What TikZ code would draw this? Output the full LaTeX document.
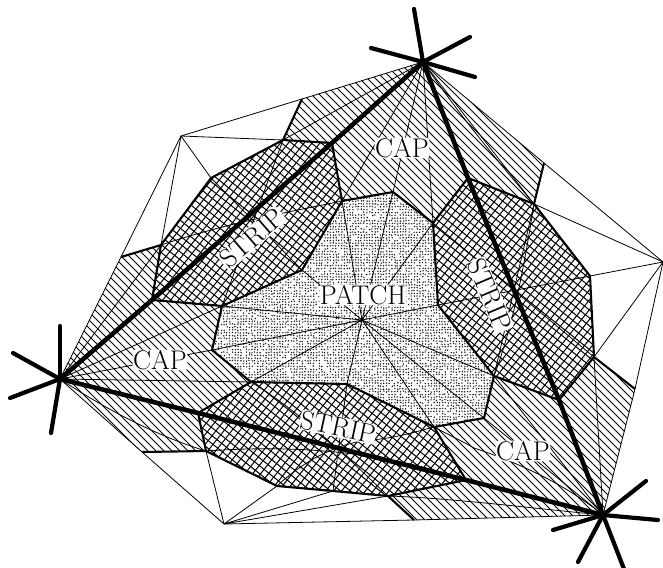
\documentclass[tikz,border=0pt]{standalone}
\pgfmathsetseed{4242}
\tikzset{
  hatchl/.style={line width=0.95pt},
  crossl/.style={line width=1pt},
  thinl/.style={line width=0.8pt,line join=round},
  thickl/.style={line width=2.1pt,line join=round},
  heavyl/.style={line width=4.6pt,line join=round},
  spoke/.style={line width=4.2pt,line cap=round},
  lab/.style={fill=white,rounded corners=3pt,inner sep=0.6pt,font=\fontsize{27}{30}\selectfont},
}
\begin{document}
\begin{tikzpicture}[x=1pt,y=-1pt]
\useasboundingbox (0,0) rectangle (663,567);
% primary vertices
\coordinate (A) at (423,62);
\coordinate (B) at (60,379);
\coordinate (C) at (603,515);
\coordinate (O) at (362,320);
% spokes
\coordinate (a1) at (414,9); \coordinate (a2) at (470,37); \coordinate (a3) at (475,77); \coordinate (a4) at (371,48);
\coordinate (b1) at (60,326); \coordinate (b2) at (13,353); \coordinate (b3) at (10,398); \coordinate (b4) at (51,433);
\coordinate (c1) at (646,481); \coordinate (c2) at (658,520); \coordinate (c3) at (553,530); \coordinate (c4) at (578,562); \coordinate (c5) at (624,569);
% outer
\coordinate (o1) at (181,136); \coordinate (o2) at (302,99); \coordinate (o3) at (544,163);
\coordinate (o4) at (663,262); \coordinate (o5) at (635,389); \coordinate (o6) at (414,520);
\coordinate (o7) at (224,524); \coordinate (o8) at (142,452); \coordinate (o9) at (121,257);
% patch
\coordinate (p1) at (342,201); \coordinate (p2) at (393,192); \coordinate (p3) at (433,223);
\coordinate (p4) at (438,305); \coordinate (p5) at (494,376); \coordinate (p6) at (484,418);
\coordinate (p7) at (434,427); \coordinate (p8) at (347,384); \coordinate (p9) at (251,382);
\coordinate (p10) at (212,350); \coordinate (p11) at (222,306); \coordinate (p12) at (302,270);
% strip left
\coordinate (s1) at (332,143); \coordinate (s2) at (283,140); \coordinate (s3) at (211,178);
\coordinate (s4) at (161,245); \coordinate (s5) at (152,300);
% strip right
\coordinate (r1) at (468,178); \coordinate (r2) at (534,204); \coordinate (r3) at (590,276);
\coordinate (r4) at (594,357); \coordinate (r5) at (559,400);
% strip bottom
\coordinate (t1) at (198,413); \coordinate (t2) at (206,451); \coordinate (t3) at (277,486);
\coordinate (t4) at (333,491); \coordinate (t5) at (388,496); \coordinate (t6) at (466,480);
% stipple
\begin{scope}
\clip (p1)--(p2)--(p3)--(p4)--(p5)--(p6)--(p7)--(p8)--(p9)--(p10)--(p11)--(p12)--cycle;
\pgfsetfillcolor{black!90}
\foreach \i in {0,...,103}{\foreach \j in {0,...,86}{%
  \pgfmathsetmacro{\keep}{rand}%
  \ifdim\keep pt>-0.7pt
    \pgfmathsetmacro{\px}{210+2.8*\i+0.5*rand}%
    \pgfmathsetmacro{\py}{-(190+2.8*\j+0.5*rand)}%
    \pgfpathcircle{\pgfqpoint{\px pt}{\py pt}}{0.8pt}%
    \pgfusepath{fill}%
  \fi
}}
\end{scope}
% cap hatching
\begin{scope}
\clip (A)--(s1)--(p1)--(p2)--(p3)--(r1)--cycle
  (A)--(o2)--(s2)--(s1)--cycle
  (A)--(r1)--(r2)--(o3)--cycle
  (B)--(s5)--(p11)--(p10)--(p9)--(t1)--cycle
  (B)--(o9)--(s4)--(s5)--cycle
  (B)--(t1)--(t2)--(o8)--cycle
  (C)--(r5)--(p5)--(p6)--(p7)--(t6)--cycle
  (C)--(r5)--(r4)--(o5)--cycle
  (C)--(t6)--(t5)--(o6)--cycle;
\foreach \k in {-567,-559,...,663}{\draw[hatchl] (\k,0)--(\k+567,567);}
\end{scope}
% strip cross hatching
\begin{scope}
\clip (s1)--(s2)--(s3)--(s4)--(s5)--(p11)--(p12)--(p1)--cycle
  (r1)--(r2)--(r3)--(r4)--(r5)--(p5)--(p4)--(p3)--cycle
  (t1)--(t2)--(t3)--(t4)--(t5)--(t6)--(p7)--(p8)--(p9)--cycle;
\foreach \k in {-709,-699.1,...,663}{\draw[crossl] (\k,0)--(\k+709,567);}
\foreach \k in {0,7.9,...,1117}{\draw[crossl] (\k,0)--(\k-454,567);}
\end{scope}
% thin mesh: outer hull
\draw[thinl] (o1)--(o2)--(A)--(o3)--(o4)--(o5)--(C)--(o6)--(o7)--(o8)--(B)--(o9)--cycle;
% white triangles
\draw[thinl] (o1)--(s2) (o1)--(s3) (o1)--(s4);
\draw[thinl] (o4)--(r2) (o4)--(r3) (o4)--(r4);
\draw[thinl] (o7)--(t2) (o7)--(t3) (o7)--(t4) (o7)--(t5);
% patch fan
\foreach \n in {p1,p2,p3,p4,p5,p6,p7,p8,p9,p10,p11,p12}{\draw[thinl] (O)--(\n);}
% caps
\draw[thinl] (A)--(p1) (A)--(p2) (A)--(p3) (A)--(s2) (A)--(r2);
\draw[thinl] (A) .. controls (470,130) and (510,175) .. (r2);
\draw[thinl] (B)--(p11) (B)--(p10) (B)--(p9) (B)--(s4);
\draw[thinl] (B) .. controls (110,412) and (160,437) .. (t2);
\draw[thinl] (C)--(p6) (C)--(r4) (C)--(p5);
\draw[thinl] (C) .. controls (560,480) and (510,460) .. (474,448) .. controls (460,440) and (445,433) .. (p7);
\draw[thinl] (C) .. controls (530,508) and (450,498) .. (t5);
% strips
\draw[thinl] (s3)--(p12) (s2)--(p11);
\draw[thinl] (s4) .. controls (230,222) and (290,212) .. (p1);
\draw[thinl] (p3)--(r4) (p4)--(r3) (p5)--(r2);
\draw[thinl] (r2) .. controls (525,260) and (515,320) .. (p5);
\draw[thinl] (t2) .. controls (290,445) and (380,450) .. (t6);
\draw[thinl] (p9) .. controls (300,412) and (345,455) .. (t5);
\draw[thinl] (p8)--(t4);
\draw[thinl] (t3) .. controls (310,455) and (345,442) .. (371,440) .. controls (395,438) and (415,432) .. (p7);
% thick boundaries
\draw[thickl] (p1)--(p2)--(p3)--(p4)--(p5)--(p6)--(p7)--(p8)--(p9)--(p10)--(p11)--(p12)--cycle;
\draw[thickl] (s1)--(p1) (o2)--(s2)--(s1) (s2)--(s3)--(s4)--(s5)--(p11);
\draw[thickl] (o9)--(s4);
\draw[thickl] (o3)--(r2) (r1)--(r2)--(r3)--(r4)--(r5)--(p5) (r4)--(o5) (r1)--(p3);
\draw[thickl] (t1)--(t2)--(t3)--(t4)--(t5)--(t6)--(p7) (t1)--(p9) (o8)--(t2) (t5)--(o6);
% heavy triangle
\draw[heavyl] (A)--(s1)--(s5)--(B);
\draw[heavyl] (A)--(r1)--(r5)--(C);
\draw[heavyl] (B)--(t1)--(t6)--(C);
% stars
\foreach \n in {a1,a2,a3,a4}{\draw[spoke] (A)--(\n);}
\foreach \n in {b1,b2,b3,b4}{\draw[spoke] (B)--(\n);}
\foreach \n in {c1,c2,c3,c4,c5}{\draw[spoke] (C)--(\n);}
% labels
\node[lab] (capt) at (402,148) {CAP};
\node[lab] (capl) at (160,360) {CAP};
\node[lab] (capr) at (523,451) {CAP};
\node[lab] (patch) at (363,295) {PATCH};
\node[lab,rotate=41] (stripl) at (252,238) {STRIP};
\node[lab,rotate=-67] (stripr) at (490,295) {STRIP};
\node[lab,rotate=-12] (stripb) at (338,427) {STRIP};
\end{tikzpicture}
\end{document}
